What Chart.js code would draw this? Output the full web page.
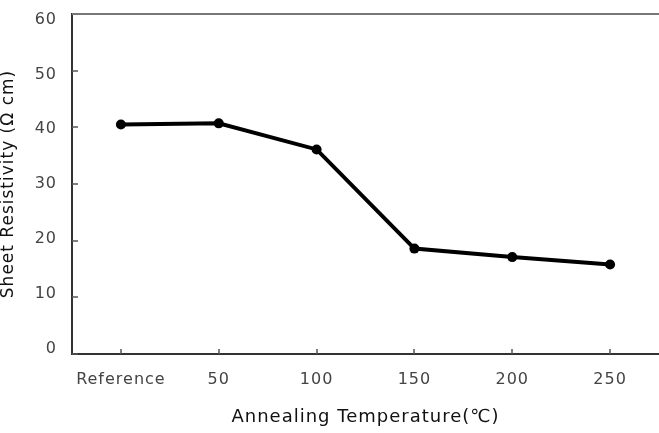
<!DOCTYPE html>
<html>
<head>
<meta charset="utf-8">
<script src="https://cdn.jsdelivr.net/npm/chart.js@4"></script>
<style>
  html, body { margin: 0; padding: 0; background: #fff; }
  #wrap { width: 659px; height: 433px; }
</style>
</head>
<body>
<div id="wrap"><canvas id="chart"></canvas></div>
<script>
// Chart data
const temperatures = ["Reference", "50", "100", "150", "200", "250"];
const resistivity = [40.5, 40.7, 36.1, 18.6, 17.1, 15.8];
const yTicks = [0, 10, 20, 30, 40, 50, 60];

const xTitle = "Annealing Temperature(℃)";
const yTitle = "Sheet Resistivity (Ω cm)";

Chart.defaults.font.family = "'DejaVu Sans', sans-serif";

// wider letters, like the original font
function setSpacing(chart) {
  chart.ctx.letterSpacing = "1px";
}

// inward tick marks + top frame line
const frame = {
  id: "frame",
  beforeUpdate: setSpacing,
  beforeLayout: setSpacing,
  beforeDraw: setSpacing,
  afterDatasetsDraw(chart) {
    const ctx = chart.ctx;
    const area = chart.chartArea;
    const x = chart.scales.x;
    const yd = chart.scales.yd;
    ctx.save();
    ctx.strokeStyle = "#555";
    ctx.lineWidth = 1.5;
    ctx.beginPath();
    yTicks.forEach((v) => {
      const py = Math.round(yd.getPixelForValue(v));
      ctx.moveTo(area.left, py);
      ctx.lineTo(area.left + 6, py);
    });
    temperatures.forEach((t, i) => {
      const px = Math.round(x.getPixelForValue(i));
      ctx.moveTo(px, area.bottom);
      ctx.lineTo(px, area.bottom - 5);
    });
    ctx.stroke();
    ctx.strokeStyle = "#777";
    ctx.lineWidth = 2;
    ctx.beginPath();
    ctx.moveTo(area.left, area.top);
    ctx.lineTo(area.right, area.top);
    ctx.stroke();
    ctx.restore();
  },
};

const ctx = document.getElementById("chart").getContext("2d");

new Chart(ctx, {
  type: "line",
  data: {
    labels: temperatures,
    datasets: [
      {
        data: resistivity,
        yAxisID: "yd",
        borderColor: "#000",
        backgroundColor: "#000",
        borderWidth: 4,
        pointRadius: 5,
        pointBorderWidth: 0,
        pointBackgroundColor: "#000",
        tension: 0,
      },
    ],
  },
  options: {
    responsive: true,
    maintainAspectRatio: false,
    animation: false,
    layout: {
      autoPadding: false,
      padding: { top: 14, right: 0, left: 0, bottom: 0 },
    },
    plugins: {
      legend: { display: false },
      tooltip: { enabled: false },
    },
    scales: {
      x: {
        type: "category",
        offset: true,
        grid: { display: false, drawTicks: false },
        border: { display: true, color: "#333", width: 2 },
        ticks: {
          color: "#444",
          font: { size: 16 },
          padding: 16,
          maxRotation: 0,
          autoSkip: false,
        },
        title: {
          display: true,
          text: xTitle,
          color: "#111",
          font: { size: 18 },
          padding: 5,
        },
        afterFit: (s) => {
          s.height = 79;
          s.paddingLeft = 0;
          s.paddingRight = 0;
        },
      },
      // axis that shows labels and title
      y: {
        position: "left",
        min: -0.93,
        max: 61.0,
        grid: { display: false, drawTicks: false },
        border: { display: true, color: "#333", width: 2 },
        afterBuildTicks: (s) => {
          s.ticks = yTicks.map((v) => ({ value: v }));
        },
        ticks: {
          color: "#444",
          font: { size: 16 },
          padding: 15,
        },
        title: {
          display: true,
          text: yTitle,
          color: "#111",
          font: { size: 17, lineHeight: 1 },
          padding: 0,
        },
        afterFit: (s) => {
          s.width = 72;
          s.paddingTop = 0;
          s.paddingBottom = 0;
        },
      },
      // axis that places the data
      yd: {
        display: false,
        min: 0,
        max: 60,
      },
    },
  },
  plugins: [frame],
});
</script>
</body>
</html>
